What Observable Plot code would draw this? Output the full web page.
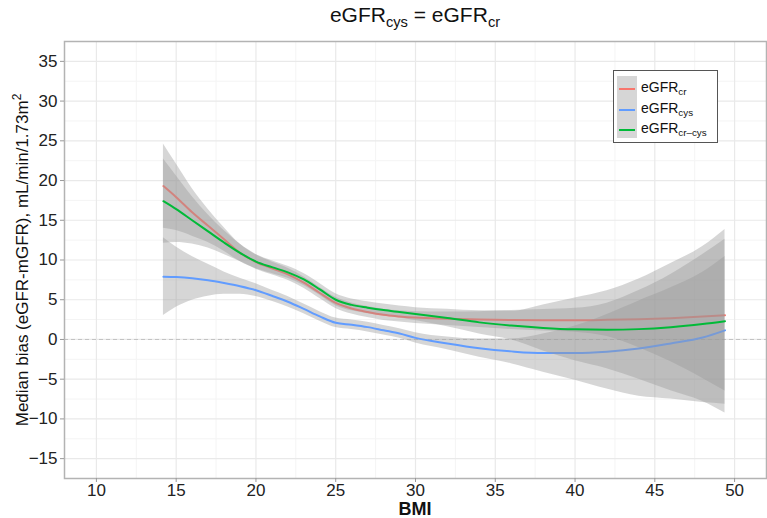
<!DOCTYPE html>
<html>
<head>
<meta charset="utf-8">
<script src="https://cdn.jsdelivr.net/npm/d3@7"></script>
<script src="https://cdn.jsdelivr.net/npm/@observablehq/plot@0.6"></script>
<style>
  body { margin: 0; background: #fff; font-family: "Liberation Sans", Arial, sans-serif; }
  #fig { position: relative; width: 767px; height: 518px; overflow: hidden; }
  #title { position: absolute; left: 64px; width: 702px; top: 3px; text-align: center; font-size: 21px; color: #111; }
  .sb { font-size: 70%; position: relative; top: 0.35em; }
  .sp { font-size: 70%; position: relative; top: -0.55em; }
  #ylab { position: absolute; left: 23px; top: 260px; transform: translate(-50%, -50%) rotate(-90deg);
          white-space: nowrap; font-size: 17px; color: #111; }
  #xlab { position: absolute; left: 64px; width: 702px; top: 500px; height: 18px; line-height: 18px; text-align: center;
          font-weight: bold; font-size: 18px; color: #111; }
  #chart { position: absolute; left: 0; top: 40px; }
  #legend { position: absolute; left: 613px; top: 70px; width: 103px; height: 71px;
            border: 1px solid #555; background: #fff; }
  #legend .keys { position: absolute; left: 3px; top: 5px; width: 20px; height: 62px; background: #d6d6d6; }
  #legend .row { position: absolute; left: 0; height: 20px; line-height: 20px; font-size: 14px; color: #111; white-space: nowrap; }
  #legend .key { position: absolute; left: 5px; top: 9px; width: 16px; height: 2px; }
  #legend .lab { position: absolute; left: 27px; top: -2px; }
</style>
</head>
<body>
<div id="fig">
  <div id="title">eGFR<span class="sb">cys</span> = eGFR<span class="sb">cr</span></div>
  <div id="chart"></div>
  <div id="ylab">Median bias (eGFR-mGFR), mL/min/1.73m<span class="sp">2</span></div>
  <div id="xlab">BMI</div>
  <div id="legend">
    <div class="keys"></div>
    <div class="row" style="top:8px"><span class="key" style="background:#F8766D"></span><span class="lab">eGFR<span class="sb">cr</span></span></div>
    <div class="row" style="top:29px"><span class="key" style="background:#619CFF"></span><span class="lab">eGFR<span class="sb">cys</span></span></div>
    <div class="row" style="top:49px"><span class="key" style="background:#00BA38"></span><span class="lab">eGFR<span class="sb">cr–cys</span></span></div>
  </div>
</div>
<script>
// BMI grid of the smoothed curves
const bmi = [14.2, 15, 16, 17, 18, 19, 20, 21, 22, 23, 24, 25, 26, 27, 28, 29, 30, 32, 34, 36, 38, 40, 42, 44, 46, 48, 49.4];

// eGFRcr: median bias fit and half-width of its confidence band
const crFit = [19.3, 17.9, 16.0, 14.3, 12.6, 10.9, 9.75, 8.95, 8.2, 7.15, 5.85, 4.6, 3.9, 3.45, 3.1, 2.9, 2.75, 2.6, 2.5, 2.45, 2.42, 2.42, 2.47, 2.55, 2.68, 2.88, 3.05];
const crCi  = [5.3, 4.2, 3.0, 2.1, 1.5, 1.1, 0.9, 0.8, 0.75, 0.7, 0.7, 0.7, 0.7, 0.7, 0.7, 0.7, 0.75, 0.85, 1.0, 1.2, 1.35, 1.5, 2.1, 3.6, 5.5, 7.8, 9.55];

// eGFRcys
const cysFit = [7.9, 7.85, 7.7, 7.45, 7.1, 6.7, 6.2, 5.5, 4.75, 3.85, 2.9, 2.1, 1.85, 1.55, 1.15, 0.75, 0.2, -0.5, -1.1, -1.5, -1.72, -1.72, -1.55, -1.15, -0.5, 0.25, 1.15];
const cysCi  = [4.9, 3.8, 2.75, 2.0, 1.4, 1.0, 0.8, 0.7, 0.65, 0.6, 0.6, 0.6, 0.6, 0.6, 0.6, 0.6, 0.65, 0.8, 1.15, 1.55, 2.4, 3.4, 4.7, 6.0, 7.0, 8.2, 9.3];

// eGFRcr-cys
const ccFit = [17.4, 16.4, 15.0, 13.6, 12.2, 10.9, 9.8, 9.1, 8.45, 7.55, 6.3, 5.0, 4.35, 4.0, 3.7, 3.45, 3.2, 2.7, 2.15, 1.75, 1.45, 1.27, 1.22, 1.3, 1.55, 1.95, 2.3];
const ccCi  = [5.3, 4.2, 3.0, 2.1, 1.5, 1.1, 0.9, 0.8, 0.75, 0.75, 0.75, 0.75, 0.75, 0.75, 0.75, 0.75, 0.8, 1.1, 1.45, 1.8, 2.9, 3.95, 4.9, 6.3, 8.0, 9.75, 11.55];

// axis ticks
const xTicks = [10, 15, 20, 25, 30, 35, 40, 45, 50];
const yTicks = [-15, -10, -5, 0, 5, 10, 15, 20, 25, 30, 35];
const xMinor = [12.5, 17.5, 22.5, 27.5, 32.5, 37.5, 42.5, 47.5];
const yMinor = [-12.5, -7.5, -2.5, 2.5, 7.5, 12.5, 17.5, 22.5, 27.5, 32.5];

const series = [
  { fit: crFit,  ci: crCi,  color: "#F8766D" },
  { fit: cysFit, ci: cysCi, color: "#619CFF" },
  { fit: ccFit,  ci: ccCi,  color: "#00BA38" }
];

const marks = [
  Plot.ruleX(xMinor, { stroke: "#f4f4f4", strokeWidth: 1 }),
  Plot.ruleY(yMinor, { stroke: "#f4f4f4", strokeWidth: 1 }),
  Plot.ruleX(xTicks, { stroke: "#e9e9e9", strokeWidth: 1.2 }),
  Plot.ruleY(yTicks, { stroke: "#e9e9e9", strokeWidth: 1.2 }),
  Plot.ruleY([0], { stroke: "#c2c2c2", strokeWidth: 1, strokeDasharray: "4,3" })
];

// each smooth: confidence ribbon, then its line
for (const s of series) {
  const rows = bmi.map((b, i) => ({ bmi: b, fit: s.fit[i], lo: s.fit[i] - s.ci[i], hi: s.fit[i] + s.ci[i] }));
  marks.push(Plot.areaY(rows, { x: "bmi", y1: "lo", y2: "hi", fill: "#999999", fillOpacity: 0.4, curve: "monotone-x" }));
  marks.push(Plot.lineY(rows, { x: "bmi", y: "fit", stroke: s.color, strokeWidth: 2, curve: "monotone-x" }));
}

marks.push(
  Plot.frame({ stroke: "#b3b3b3", strokeWidth: 1.5 }),
  Plot.axisX({ ticks: xTicks, tickSize: 4, tickPadding: 1, label: null, stroke: "#999", fill: "#222" }),
  Plot.axisY({ ticks: yTicks, tickSize: 4, tickPadding: 3, label: null, stroke: "#999", fill: "#222" })
);

const chart = Plot.plot({
  width: 767,
  height: 478,
  marginTop: 1,
  marginBottom: 40,
  marginLeft: 64,
  marginRight: 1,
  x: { domain: [8, 52] },
  y: { domain: [-17.5, 37.5] },
  style: { fontFamily: "Liberation Sans, Arial, sans-serif", fontSize: "17px", background: "transparent" },
  marks
});
document.getElementById("chart").appendChild(chart);
</script>
</body>
</html>
